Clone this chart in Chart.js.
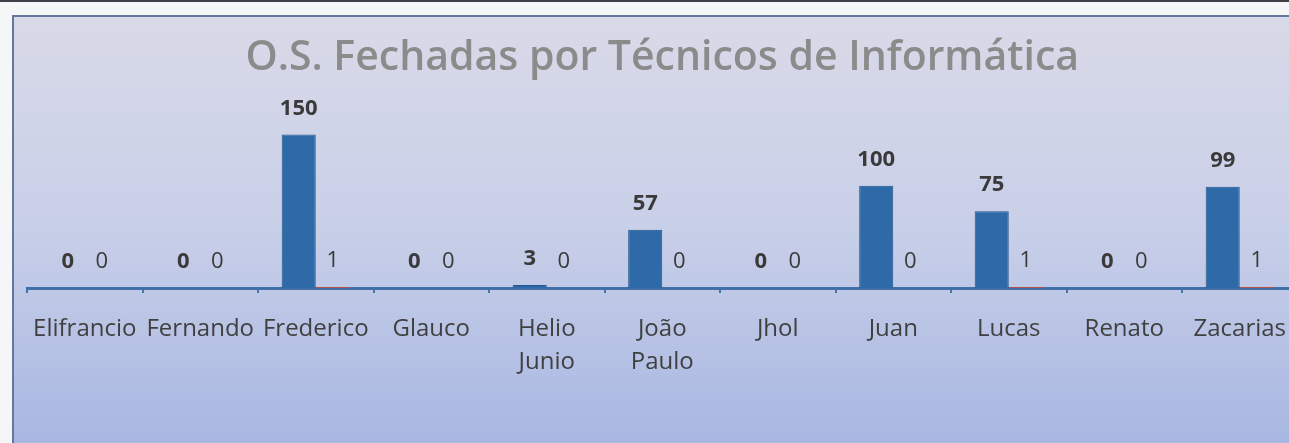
<!DOCTYPE html>
<html>
<head>
<meta charset="utf-8">
<script src="https://cdn.jsdelivr.net/npm/chart.js@4.4.0/dist/chart.umd.min.js"></script>
<style>
  html, body { margin: 0; padding: 0; background: #f5f6f8; overflow: hidden; }
  #wrap { position: absolute; left: 0; top: 0; width: 1310px; height: 443px; }
</style>
</head>
<body>
<div id="wrap"><canvas id="osChart"></canvas></div>
<script>
// data
const tecnicos = ['Elifrancio', 'Fernando', 'Frederico', 'Glauco', ['Helio', 'Junio'],
                  ['João', 'Paulo'], 'Jhol', 'Juan', 'Lucas', 'Renato', 'Zacarias'];
const fechadas = [0, 0, 150, 0, 3, 57, 0, 100, 75, 0, 99];
const segundaSerie = [0, 0, 1, 0, 0, 0, 0, 0, 1, 0, 1];
const tituloGrafico = 'O.S. Fechadas por Técnicos de Informática';

// background frame + gradient (scanned excel look)
const fundo = {
    id: 'fundo',
    beforeDraw(chart) {
        const c = chart.ctx;
        const w = chart.width, h = chart.height;
        c.save();
        c.fillStyle = '#f5f6f8';
        c.fillRect(0, 0, w, h);
        c.fillStyle = '#3c4148';
        c.fillRect(0, 0, w, 2);
        const g = c.createLinearGradient(0, 15, 0, h);
        g.addColorStop(0, '#d9dae8');
        g.addColorStop(0.5, '#c8cfe8');
        g.addColorStop(1, '#a8b7e2');
        c.fillStyle = g;
        c.fillRect(12, 15, w - 12, h - 15);
        c.strokeStyle = '#64789e';
        c.lineWidth = 2;
        c.beginPath();
        c.moveTo(13, h);
        c.lineTo(13, 16);
        c.lineTo(w, 16);
        c.stroke();
        c.restore();
    }
};

// value labels above each bar
const rotulos = {
    id: 'rotulos',
    afterDatasetsDraw(chart) {
        const c = chart.ctx;
        c.save();
        c.textAlign = 'center';
        c.textBaseline = 'middle';
        c.fillStyle = '#3a3a3a';
        chart.data.datasets.forEach((ds, i) => {
            const meta = chart.getDatasetMeta(i);
            c.font = (i === 0 ? 'bold ' : '') + '22px "Open Sans"';
            meta.data.forEach((bar, j) => {
                c.fillText(String(ds.data[j]), bar.x, bar.y - 26);
            });
        });
        c.restore();
    }
};

const ctx = document.getElementById('osChart').getContext('2d');
new Chart(ctx, {
    type: 'bar',
    data: {
        labels: tecnicos,
        datasets: [
            { label: 'Fechadas', data: fechadas, backgroundColor: '#2d6aa7',
              borderColor: '#22568e', borderWidth: 1, barPercentage: 1, categoryPercentage: 0.59 },
            { label: 'Série 2', data: segundaSerie, backgroundColor: '#b5504b',
              barPercentage: 1, categoryPercentage: 0.59 }
        ]
    },
    options: {
        responsive: true,
        maintainAspectRatio: false,
        devicePixelRatio: 1,
        animation: false,
        layout: { padding: { left: 27, right: 12.5, top: 15, bottom: 44 } },
        plugins: {
            legend: { display: false },
            tooltip: { enabled: false },
            title: {
                display: true,
                text: tituloGrafico,
                color: '#8b8b8b',
                font: { family: 'Open Sans', size: 41, weight: '600', lineHeight: 1.2 },
                padding: { top: 19, bottom: 41 }
            }
        },
        scales: {
            y: { display: false, min: 0, max: 160 },
            x: {
                z: 1,
                border: { display: true, color: '#3f70a8', width: 3 },
                grid: { display: true, drawOnChartArea: false, offset: true,
                        tickLength: 5, color: '#4a74a8', lineWidth: 2 },
                ticks: {
                    color: '#404040',
                    padding: 20,
                    maxRotation: 0,
                    autoSkip: false,
                    font: { family: 'Open Sans', size: 24, lineHeight: 1.375 }
                }
            }
        }
    },
    plugins: [fundo, rotulos]
});
</script>
</body>
</html>
